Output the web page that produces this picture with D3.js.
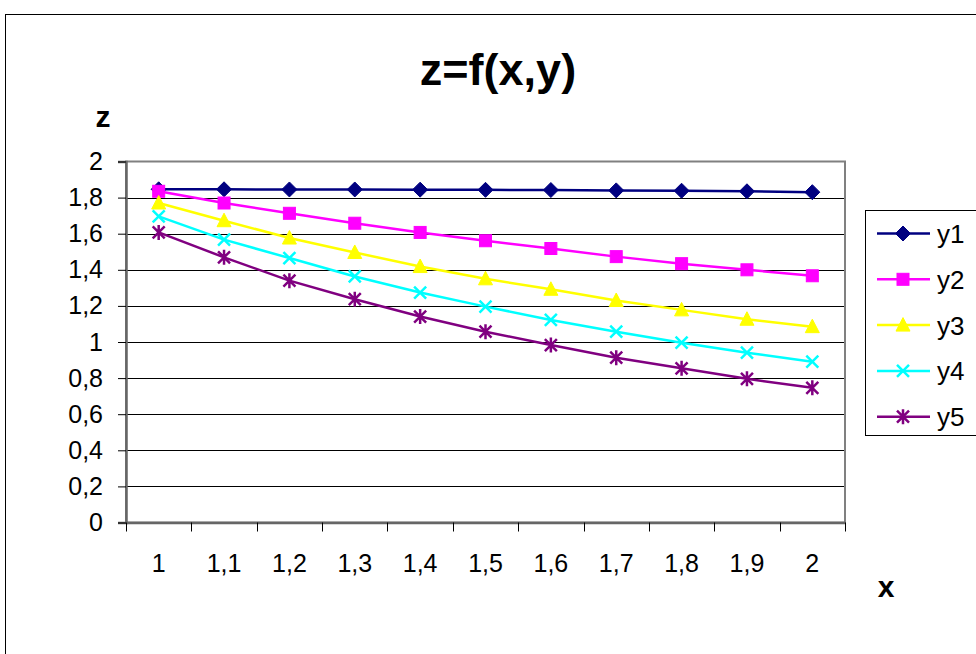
<!DOCTYPE html>
<html>
<head>
<meta charset="utf-8">
<script src="https://cdn.jsdelivr.net/npm/d3@7"></script>
<style>
html,body{margin:0;padding:0;background:#fff;}
svg{display:block;font-family:Arial,"Liberation Sans",sans-serif;}
</style>
</head>
<body>
<svg id="chart" width="976" height="654"></svg>
<script>
const categories = ["1","1,1","1,2","1,3","1,4","1,5","1,6","1,7","1,8","1,9","2"];
const y1 = [1.846,1.846,1.845,1.845,1.844,1.843,1.842,1.840,1.838,1.835,1.830];
const y2 = [1.835,1.770,1.713,1.658,1.607,1.561,1.518,1.473,1.434,1.400,1.367];
const y3 = [1.770,1.672,1.576,1.496,1.418,1.350,1.292,1.230,1.178,1.126,1.085];
const y4 = [1.696,1.567,1.465,1.363,1.274,1.196,1.122,1.057,0.996,0.941,0.891];
const y5 = [1.607,1.469,1.340,1.237,1.141,1.057,0.983,0.913,0.854,0.796,0.746];
const seriesNames = ["y1","y2","y3","y4","y5"];
const seriesColors = ["#000080","#FF00FF","#FFFF00","#00FFFF","#800080"];
const seriesMarkers = ["diamond","square","triangle","x","star"];
const yTicks = [0,0.2,0.4,0.6,0.8,1,1.2,1.4,1.6,1.8,2];
const titleText = "z=f(x,y)";
const xTitle = "x";
const yTitle = "z";

const series = [y1,y2,y3,y4,y5].map((v,i)=>({name:seriesNames[i],values:v,color:seriesColors[i],marker:seriesMarkers[i]}));

const svg = d3.select("#chart");
const L = 126, R = 845, T = 161.5, B = 522.5;
const FONT = "Arial,'Liberation Sans',sans-serif";

// outer border
svg.append("rect").attr("x",5.5).attr("y",14.5).attr("width",1000).attr("height",700)
  .attr("fill","#fff").attr("stroke","#000").attr("stroke-width",1);

const x = d3.scaleBand().domain(categories).range([L,R]).padding(0);
const y = d3.scaleLinear().domain([0,2]).range([B,T]);

// gridlines
svg.append("g").selectAll("line").data(yTicks.filter(t=>t>0 && t<2)).join("line")
  .attr("x1",L).attr("x2",R).attr("y1",d=>Math.round(y(d))+0.5).attr("y2",d=>Math.round(y(d))+0.5)
  .attr("stroke","#000").attr("stroke-width",1);

// plot border
svg.append("rect").attr("x",L).attr("y",T).attr("width",R-L).attr("height",B-T)
  .attr("fill","none").attr("stroke","#808080").attr("stroke-width",2);

// y axis
const yAxis = d3.axisLeft(y).tickValues(yTicks).tickSize(8).tickPadding(15)
  .tickFormat(d=>d3.format("")(d).replace(".",","));
const gy = svg.append("g").attr("transform",`translate(${L},0)`).call(yAxis);
gy.select(".domain").attr("stroke","#666").attr("stroke-width",2.5);
gy.selectAll(".tick line").attr("stroke","#000");
gy.selectAll("text").attr("font-size",25).attr("fill","#000").attr("font-family",FONT);

// x axis
const gx = svg.append("g").attr("transform",`translate(0,${B})`);
const xAxis = d3.axisBottom(x).tickSize(0).tickPadding(32);
gx.call(xAxis);
gx.select(".domain").attr("stroke","#666").attr("stroke-width",2.5);
gx.selectAll("text").attr("font-size",25).attr("fill","#000").attr("font-family",FONT);
// category boundary ticks
const bounds = categories.map(c=>x(c)).concat([x(categories[categories.length-1])+x.bandwidth()]);
gx.append("g").selectAll("line").data(bounds).join("line")
  .attr("x1",d=>Math.round(d)+0.5).attr("x2",d=>Math.round(d)+0.5).attr("y1",0).attr("y2",9)
  .attr("stroke","#000").attr("stroke-width",1);

// title and axis titles
svg.append("text").attr("x",498).attr("y",85).attr("text-anchor","middle")
  .attr("font-size",45).attr("font-weight","bold").text(titleText);
svg.append("text").attr("x",103).attr("y",127).attr("text-anchor","middle")
  .attr("font-size",30).attr("font-weight","bold").text(yTitle);
svg.append("text").attr("x",886).attr("y",597).attr("text-anchor","middle")
  .attr("font-size",30).attr("font-weight","bold").text(xTitle);

// marker drawing
function drawMarker(g, type, color){
  if(type==="diamond"){
    g.append("path").attr("d","M0,-7.5L7.5,0L0,7.5L-7.5,0Z").attr("fill",color).attr("stroke",color);
  } else if(type==="square"){
    g.append("rect").attr("x",-6).attr("y",-6).attr("width",12).attr("height",12).attr("fill",color).attr("stroke",color);
  } else if(type==="triangle"){
    g.append("path").attr("d","M0,-7.5L7,6L-7,6Z").attr("fill",color).attr("stroke",color);
  } else if(type==="x"){
    g.append("path").attr("d","M-6,-6L6,6M-6,6L6,-6").attr("stroke",color).attr("stroke-width",2.5);
  } else if(type==="star"){
    g.append("path").attr("d","M-6,-6L6,6M-6,6L6,-6M0,-7.5L0,7.5").attr("stroke",color).attr("stroke-width",2.5);
  }
}

const line = d3.line().x((d,i)=>x(categories[i])+x.bandwidth()/2).y(d=>y(d));
series.forEach(s=>{
  svg.append("path").datum(s.values).attr("d",line).attr("fill","none")
    .attr("stroke",s.color).attr("stroke-width",2.5);
});
series.forEach(s=>{
  s.values.forEach((v,i)=>{
    const g = svg.append("g").attr("transform",`translate(${x(categories[i])+x.bandwidth()/2},${y(v)})`);
    drawMarker(g,s.marker,s.color);
  });
});

// legend
const lg = svg.append("g");
lg.append("rect").attr("x",865.5).attr("y",210.5).attr("width",200).attr("height",225)
  .attr("fill","#fff").attr("stroke","#000").attr("stroke-width",1);
series.forEach((s,i)=>{
  const cy = 233.5 + i*45.8;
  lg.append("line").attr("x1",877).attr("x2",930).attr("y1",cy).attr("y2",cy)
    .attr("stroke",s.color).attr("stroke-width",2.5);
  const g = lg.append("g").attr("transform",`translate(903,${cy})`);
  drawMarker(g,s.marker,s.color);
  lg.append("text").attr("x",937).attr("y",cy+9.5).attr("font-size",26).attr("fill","#000")
    .attr("font-family",FONT).text(s.name);
});
</script>
</body>
</html>
